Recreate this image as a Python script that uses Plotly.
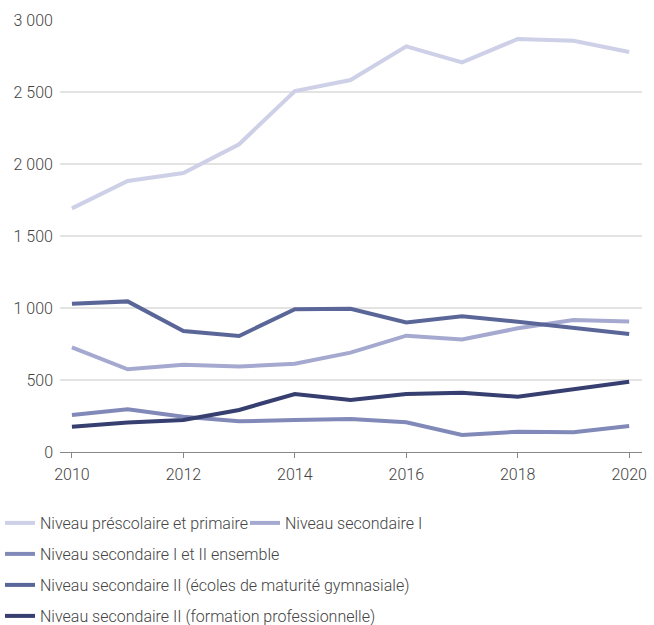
import plotly.graph_objects as go

years = list(range(2010, 2021))

prescolaire_primaire = [1692, 1882, 1937, 2137, 2507, 2583, 2817, 2706, 2868, 2856, 2778]
secondaire_1 = [727, 574, 606, 593, 613, 690, 808, 782, 859, 917, 907]
secondaire_1_2 = [257, 296, 245, 213, 222, 229, 206, 118, 141, 137, 181]
secondaire_2_gymnase = [1030, 1046, 840, 806, 991, 995, 900, 942, 905, 863, 819]
secondaire_2_pro = [176, 204, 222, 292, 403, 361, 403, 412, 384, 437, 488]

series_names = [
    "Niveau préscolaire et primaire",
    "Niveau secondaire I",
    "Niveau secondaire I et II ensemble",
    "Niveau secondaire II (écoles de maturité gymnasiale)",
    "Niveau secondaire II (formation professionnelle)",
]
series_values = [prescolaire_primaire, secondaire_1, secondaire_1_2,
                 secondaire_2_gymnase, secondaire_2_pro]
colors = ["#cdd0e7", "#a5a9d0", "#8189b9", "#5b6698", "#363f6f"]

# one legend per entry so each row sits exactly where it should
legend_ids = ["legend", "legend2", "legend3", "legend4", "legend5"]
legend_pos = [(0, 523), (245, 523), (0, 554), (0, 585), (0, 616)]

W, H = 654, 625
FONT = "Roboto, sans-serif"
TXT = "#444444"
FS = 16

fig = go.Figure()
for name, vals, col, lg in zip(series_names, series_values, colors, legend_ids):
    fig.add_trace(go.Scatter(
        x=years, y=vals, name=name, mode="lines",
        line=dict(color=col, width=4),
        legend=lg,
    ))

layout_legends = {}
for lg, (px, py) in zip(legend_ids, legend_pos):
    layout_legends[lg] = dict(
        xref="container", yref="container",
        x=px / W, y=1 - py / H,
        xanchor="left", yanchor="middle",
        orientation="h",
        font=dict(family=FONT, size=FS, color=TXT, weight=300),
        bgcolor="rgba(0,0,0,0)",
    )

fig.update_layout(
    width=W, height=H,
    margin=dict(l=60, r=7, t=20, b=173),
    paper_bgcolor="white", plot_bgcolor="white",
    font=dict(family=FONT, size=FS, color=TXT, weight=300),
    separators=". ",
    showlegend=True,
    **layout_legends,
)

fig.update_xaxes(
    range=[2009.786, 2020.23],
    tickmode="array", tickvals=[2010, 2012, 2014, 2016, 2018, 2020],
    showgrid=False, zeroline=False,
    showline=True, linecolor="#888888", linewidth=1,
    ticks="outside", ticklen=5, tickcolor="#888888", tickwidth=1,
    ticklabelstandoff=3,
    tickfont=dict(family=FONT, size=FS, color=TXT, weight=300),
)
fig.update_yaxes(
    range=[0, 3000],
    tickvals=[0, 500, 1000, 1500, 2000, 2500, 3000],
    separatethousands=True,
    showgrid=True, gridcolor="#e3e3e3", gridwidth=1.5,
    zeroline=False, showline=False,
    ticks="", ticklabelstandoff=6,
    tickfont=dict(family=FONT, size=FS, color=TXT, weight=300),
)

fig.write_html("out.html")
